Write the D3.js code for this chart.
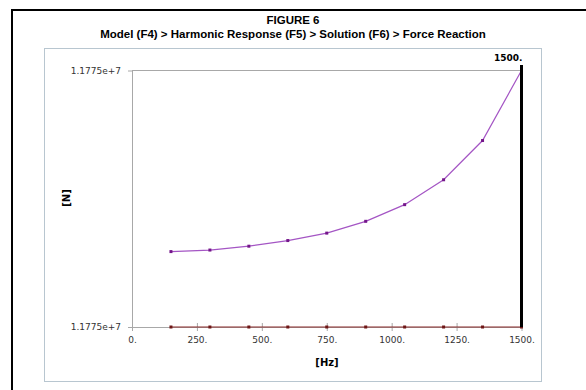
<!DOCTYPE html>
<html>
<head>
<meta charset="utf-8">
<script src="https://cdn.jsdelivr.net/npm/d3@7"></script>
<style>
  body { margin: 0; background: #fff; }
  .tick text { font-family: Tahoma, "DejaVu Sans", sans-serif; font-size: 9px; fill: #333; }
</style>
</head>
<body>
<div id="container"></div>
<script>
// frequency steps [Hz]
const freq = [150, 300, 450, 600, 750, 900, 1050, 1200, 1350, 1500]
// force reaction [N], the two curves
const reactionUpper = [11774958.8, 11774960, 11774963, 11774967.4, 11774973.2, 11774982.4, 11774995.4, 11775014.8, 11775045.4, 11775100]
const reactionLower = [11774900, 11774900, 11774900, 11774900, 11774900, 11774900, 11774900, 11774900, 11774900, 11774900]
// axis ticks
const xTicks = [0, 250, 500, 750, 1000, 1250, 1500]
const yTicks = [11774900, 11775100]
const markerFreq = 1500

const w = 586
const h = 390

const svg = d3.select('#container')
  .append('svg')
  .attr('width', w)
  .attr('height', h)

//outer black border
svg.append('rect')
  .attr('x', 12)
  .attr('y', 10)
  .attr('width', 620)
  .attr('height', 420)
  .attr('fill', 'none')
  .attr('stroke', '#000')
  .attr('stroke-width', 2)

//inner frame
svg.append('rect')
  .attr('x', 44.5)
  .attr('y', 48.5)
  .attr('width', 497)
  .attr('height', 333)
  .attr('fill', 'none')
  .attr('stroke', '#b8c6d0')

//titles
svg.append('text')
  .attr('x', 293)
  .attr('y', 24)
  .attr('text-anchor', 'middle')
  .style('font-family', 'Arial, "Liberation Sans", sans-serif')
  .style('font-size', '11.5px')
  .style('font-weight', 'bold')
  .text('FIGURE 6')

svg.append('text')
  .attr('x', 293)
  .attr('y', 38)
  .attr('text-anchor', 'middle')
  .style('font-family', 'Arial, "Liberation Sans", sans-serif')
  .style('font-size', '11.5px')
  .style('font-weight', 'bold')
  .text('Model (F4) > Harmonic Response (F5) > Solution (F6) > Force Reaction')

const x = d3.scaleLinear()
  .domain([0, 1500])
  .range([132, 521.5])

const y = d3.scaleLinear()
  .domain(d3.extent(yTicks))
  .range([327, 70.5])

//x axis
const xAxis = svg.append('g')
  .attr('transform', `translate(0,${y.range()[0]})`)
  .call(d3.axisBottom(x)
    .tickValues(xTicks)
    .tickFormat(d => d + '.')
    .tickSizeInner(4)
    .tickSizeOuter(0)
    .tickPadding(6))
xAxis.select('.domain').attr('stroke', '#a8a8a8')
xAxis.selectAll('.tick line')
  .attr('stroke', '#a8a8a8')
  .attr('y1', -4)
  .attr('y2', 4)

//y axis
const yAxis = svg.append('g')
  .attr('transform', `translate(${x.range()[0]},0)`)
  .call(d3.axisLeft(y)
    .tickValues(yTicks)
    .tickFormat(d3.format('.4e'))
    .tickSizeInner(4)
    .tickSizeOuter(0)
    .tickPadding(7))
yAxis.select('.domain').attr('stroke', '#a8a8a8')
yAxis.selectAll('.tick line').attr('stroke', '#a8a8a8')

//top border line
svg.append('line')
  .attr('x1', x(0))
  .attr('x2', x(1500))
  .attr('y1', y(yTicks[1]))
  .attr('y2', y(yTicks[1]))
  .attr('stroke', '#a8a8a8')

//axis titles
svg.append('text')
  .attr('x', 327)
  .attr('y', 366)
  .attr('text-anchor', 'middle')
  .style('font-family', 'Tahoma, "DejaVu Sans", sans-serif')
  .style('font-size', '10px')
  .style('font-weight', 'bold')
  .text('[Hz]')

svg.append('text')
  .attr('transform', 'translate(70,198) rotate(-90)')
  .attr('text-anchor', 'middle')
  .style('font-family', 'Tahoma, "DejaVu Sans", sans-serif')
  .style('font-size', '10px')
  .style('font-weight', 'bold')
  .text('[N]')

//series
const series = [
  { values: reactionLower, line: '#8a2a2a', dot: '#6e1616' },
  { values: reactionUpper, line: '#a455c4', dot: '#74168a' }
]

const line = d3.line()
  .x(d => x(d[0]))
  .y(d => y(d[1]))

series.forEach(s => {
  const pts = freq.map((f, i) => [f, s.values[i]])
  svg.append('path')
    .datum(pts)
    .attr('d', line)
    .attr('fill', 'none')
    .attr('stroke', s.line)
    .attr('stroke-width', 1.2)

  svg.selectAll(null)
    .data(pts)
    .enter()
    .append('rect')
    .attr('x', d => x(d[0]) - 1.5)
    .attr('y', d => y(d[1]) - 1.5)
    .attr('width', 3)
    .attr('height', 3)
    .attr('fill', s.dot)
})

//frequency marker
svg.append('line')
  .attr('x1', x(markerFreq))
  .attr('x2', x(markerFreq))
  .attr('y1', y.range()[0])
  .attr('y2', 65)
  .attr('stroke', '#000')
  .attr('stroke-width', 3)

svg.append('text')
  .attr('x', x(markerFreq) + 1)
  .attr('y', 61)
  .attr('text-anchor', 'end')
  .style('font-family', 'Tahoma, "DejaVu Sans", sans-serif')
  .style('font-size', '9px')
  .style('font-weight', 'bold')
  .text(markerFreq + '.')
</script>
</body>
</html>
